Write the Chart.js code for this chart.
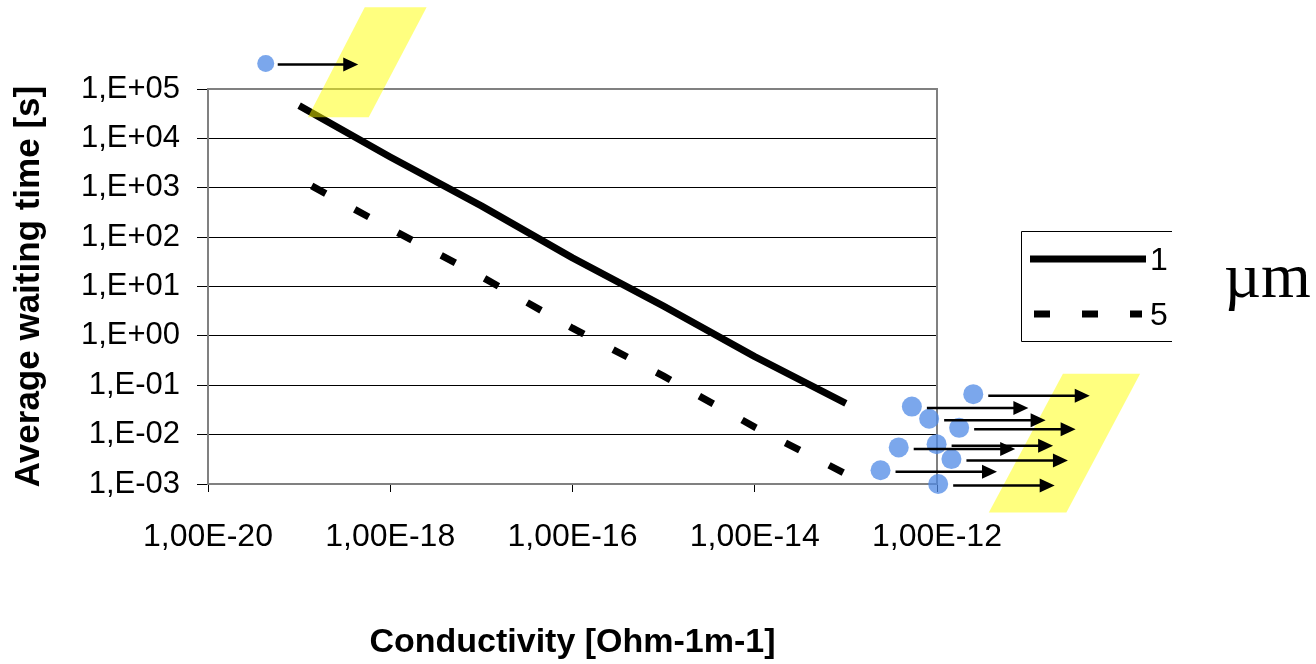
<!DOCTYPE html>
<html>
<head>
<meta charset="utf-8">
<script src="https://cdn.jsdelivr.net/npm/chart.js@4.4.1/dist/chart.umd.min.js"></script>
<style>
  html, body { margin: 0; padding: 0; background: #fff; }
  canvas { display: block; }
</style>
</head>
<body>
<canvas id="chart" width="1316" height="664"></canvas>
<script>
// Conductivity grid of the model curves [Ohm-1 m-1]
const conductivity = [1e-19, 1e-18, 1e-17, 1e-16, 1e-15, 1e-14, 1e-13];
// Average waiting time [s] for 1 µm and 5 µm particles
const waitTime1um = [4.6e4, 4.2e3, 4.3e2, 38, 4.0, 0.38, 0.043];
const waitTime5um = [1500, 148, 15.9, 1.43, 0.153, 0.0142, 0.0016];
const seriesLabels = ['1', '5'];
const unitLabel = 'µm';

// Measured materials (high conductivity group)
const measuredConductivity = [2.5e-12, 5.3e-13, 8.2e-13, 1.75e-12, 3.8e-13, 9.9e-13, 1.44e-12, 2.4e-13, 1.03e-12];
const measuredWaitTime = [0.066, 0.037, 0.021, 0.0137, 0.0055, 0.0064, 0.0032, 0.0019, 0.001];
// Measured material (low conductivity)
const insulatorConductivity = [4.3e-20];
const insulatorWaitTime = [3.3e5];

// Axis ticks
const xTickValues = [1e-20, 1e-18, 1e-16, 1e-14, 1e-12];
const xTickLabels = ['1,00E-20', '1,00E-18', '1,00E-16', '1,00E-14', '1,00E-12'];
const yTickValues = [1e-3, 1e-2, 1e-1, 1e0, 1e1, 1e2, 1e3, 1e4, 1e5];
const yTickLabels = ['1,E-03', '1,E-02', '1,E-01', '1,E+00', '1,E+01', '1,E+02', '1,E+03', '1,E+04', '1,E+05'];

const toPoints = (xs, ys) => xs.map((x, i) => ({ x: x, y: ys[i] }));

Chart.defaults.font.family = "'Liberation Sans', Arial, sans-serif";
Chart.defaults.color = '#000';

const DOT_COLOR = 'rgba(79, 138, 230, 0.75)';
const GREY = '#808080';

// Highlight bands, corners given as log10(conductivity), log10(time)
const highlightBands = [
  { top: 6.654, bottom: 4.427, topLeft: -18.280, topRight: -17.601, bottomLeft: -18.903, bottomRight: -18.236 },
  { top: -0.769, bottom: -3.577, topLeft: -10.618, topRight: -9.771, bottomLeft: -11.431, bottomRight: -10.580 }
];

// Plot frame: top and right edges
const framePlugin = {
  id: 'frame',
  beforeDatasetsDraw(chart) {
    const { ctx, chartArea: a } = chart;
    ctx.save();
    ctx.strokeStyle = GREY;
    ctx.lineWidth = 2;
    ctx.beginPath();
    ctx.moveTo(a.left, a.top);
    ctx.lineTo(a.right, a.top);
    ctx.lineTo(a.right, a.bottom);
    ctx.stroke();
    ctx.restore();
  }
};

// Measured points sit outside the plot frame: let them draw on the whole canvas
const fullCanvasPoints = {
  id: 'fullCanvasPoints',
  beforeDatasetDraw(chart, args) {
    if (args.meta.type === 'scatter' && !chart.data.datasets[args.index].showLine) {
      chart._savedArea = chart.chartArea;
      chart.chartArea = { left: 0, top: 0, right: chart.width, bottom: chart.height, width: chart.width, height: chart.height };
    }
  },
  afterDatasetDraw(chart, args) {
    if (chart._savedArea) {
      chart.chartArea = chart._savedArea;
      chart._savedArea = null;
    }
    // yellow bands go over the model curves, under the measured points
    if (chart.data.datasets[args.index].label === seriesLabels[0]) {
      const { ctx } = chart;
      const xs = chart.scales.x, ys = chart.scales.y;
      const px = e => xs.getPixelForValue(Math.pow(10, e));
      const py = e => ys.getPixelForValue(Math.pow(10, e));
      ctx.save();
      ctx.fillStyle = 'rgba(255, 255, 0, 0.5)';
      highlightBands.forEach(b => {
        ctx.beginPath();
        ctx.moveTo(px(b.topLeft), py(b.top));
        ctx.lineTo(px(b.topRight), py(b.top));
        ctx.lineTo(px(b.bottomRight), py(b.bottom));
        ctx.lineTo(px(b.bottomLeft), py(b.bottom));
        ctx.closePath();
        ctx.fill();
      });
      ctx.restore();
    }
  }
};

// Arrows pointing from each measured point towards higher conductivity
const arrowPlugin = {
  id: 'arrows',
  afterDatasetsDraw(chart) {
    const { ctx } = chart;
    ctx.save();
    ctx.strokeStyle = '#000';
    ctx.fillStyle = '#000';
    ctx.lineWidth = 2.5;
    chart.data.datasets.forEach((ds, di) => {
      if (!ds.arrow) return;
      const meta = chart.getDatasetMeta(di);
      meta.data.forEach(pt => {
        const x0 = pt.x + ds.arrow.gap;
        const y = pt.y + ds.arrow.dy;
        const x1 = x0 + ds.arrow.length;
        const head = 15, half = 7;
        ctx.beginPath();
        ctx.moveTo(x0, y);
        ctx.lineTo(x1 - head + 1, y);
        ctx.stroke();
        ctx.beginPath();
        ctx.moveTo(x1, y);
        ctx.lineTo(x1 - head, y - half);
        ctx.lineTo(x1 - head, y + half);
        ctx.closePath();
        ctx.fill();
      });
    });
    ctx.restore();
  }
};

// Legend box with particle size unit
const legendPlugin = {
  id: 'sizeLegend',
  afterDraw(chart) {
    const { ctx } = chart;
    const lines = chart.data.datasets.filter(d => d.showLine);
    ctx.save();
    ctx.strokeStyle = '#000';
    ctx.lineWidth = 1;
    ctx.beginPath();
    ctx.moveTo(1172, 231.5);
    ctx.lineTo(1021.5, 231.5);
    ctx.lineTo(1021.5, 341.5);
    ctx.lineTo(1172, 341.5);
    ctx.stroke();

    const rows = [
      { y: 259, x0: 1030, x1: 1146 },
      { y: 314, x0: 1034, x1: 1142 }
    ];
    lines.forEach((ds, i) => {
      const r = rows[i];
      ctx.strokeStyle = ds.borderColor;
      ctx.lineWidth = ds.borderWidth;
      ctx.lineCap = 'butt';
      ctx.setLineDash(ds.borderDash ? [16, 32] : []);
      ctx.lineDashOffset = 0;
      ctx.beginPath();
      ctx.moveTo(r.x0, r.y);
      ctx.lineTo(r.x1, r.y);
      ctx.stroke();
      ctx.setLineDash([]);
      ctx.fillStyle = '#000';
      ctx.font = "32px 'Liberation Sans', Arial, sans-serif";
      ctx.textBaseline = 'middle';
      ctx.textAlign = 'left';
      ctx.fillText(ds.label, 1150, r.y + 2);
    });

    ctx.font = "64px 'Liberation Serif', 'Times New Roman', serif";
    ctx.textBaseline = 'alphabetic';
    ctx.fillStyle = '#000';
    ctx.fillText(unitLabel, 1224, 297);
    ctx.restore();
  }
};

new Chart(document.getElementById('chart'), {
  type: 'scatter',
  data: {
    datasets: [
      {
        label: 'measured',
        data: toPoints(measuredConductivity, measuredWaitTime),
        backgroundColor: DOT_COLOR,
        borderWidth: 0,
        pointRadius: 10,
        clip: false,
        arrow: { gap: 15, dy: 1.5, length: 101.5 }
      },
      {
        label: 'measured insulator',
        data: toPoints(insulatorConductivity, insulatorWaitTime),
        backgroundColor: DOT_COLOR,
        borderWidth: 0,
        pointRadius: 8.5,
        clip: false,
        arrow: { gap: 12, dy: 1, length: 80.5 }
      },
      {
        label: seriesLabels[0],
        data: toPoints(conductivity, waitTime1um),
        showLine: true,
        borderColor: '#000',
        borderWidth: 7,
        borderCapStyle: 'butt',
        borderJoinStyle: 'round',
        pointRadius: 0,
        tension: 0,
        clip: false
      },
      {
        label: seriesLabels[1],
        data: toPoints(conductivity, waitTime5um),
        showLine: true,
        borderColor: '#000',
        borderWidth: 7,
        borderDash: [16, 33],
        borderDashOffset: 34.7,
        borderCapStyle: 'butt',
        pointRadius: 0,
        tension: 0,
        clip: false
      }
    ]
  },
  options: {
    responsive: false,
    animation: false,
    events: [],
    devicePixelRatio: 1,
    layout: { padding: { left: 0, right: 379, top: 89, bottom: 0 } },
    plugins: {
      legend: { display: false },
      tooltip: { enabled: false }
    },
    scales: {
      x: {
        type: 'logarithmic',
        min: 1e-20,
        max: 1e-12,
        afterBuildTicks: s => { s.ticks = xTickValues.map(v => ({ value: v })); },
        afterFit: s => { s.height = 180; },
        ticks: {
          callback: (v, i) => xTickLabels[i],
          font: { size: 32 },
          color: '#000',
          padding: 26,
          autoSkip: false,
          maxRotation: 0
        },
        grid: { drawOnChartArea: false, tickLength: 8, tickColor: '#000', tickWidth: 1 },
        border: { color: GREY, width: 2 },
        title: {
          display: true,
          text: 'Conductivity [Ohm-1m-1]',
          font: { size: 34, weight: 'bold' },
          color: '#000',
          padding: { top: 0, bottom: 1 }
        }
      },
      y: {
        type: 'logarithmic',
        min: 1e-3,
        max: 1e5,
        afterBuildTicks: s => { s.ticks = yTickValues.map(v => ({ value: v })); },
        afterFit: s => { s.width = 208; },
        ticks: {
          callback: (v, i) => yTickLabels[i],
          font: { size: 31 },
          color: '#000',
          padding: 17,
          autoSkip: false
        },
        grid: {
          color: c => (c.index === 0 || c.index === yTickValues.length - 1) ? 'rgba(0,0,0,0)' : '#000',
          lineWidth: 1,
          tickLength: 11,
          tickColor: '#000'
        },
        border: { color: GREY, width: 2 },
        title: {
          display: true,
          text: 'Average waiting time [s]',
          font: { size: 35, weight: 'bold' },
          color: '#000',
          padding: { top: 8, bottom: 0 }
        }
      }
    }
  },
  plugins: [framePlugin, fullCanvasPoints, arrowPlugin, legendPlugin]
});
</script>
</body>
</html>
